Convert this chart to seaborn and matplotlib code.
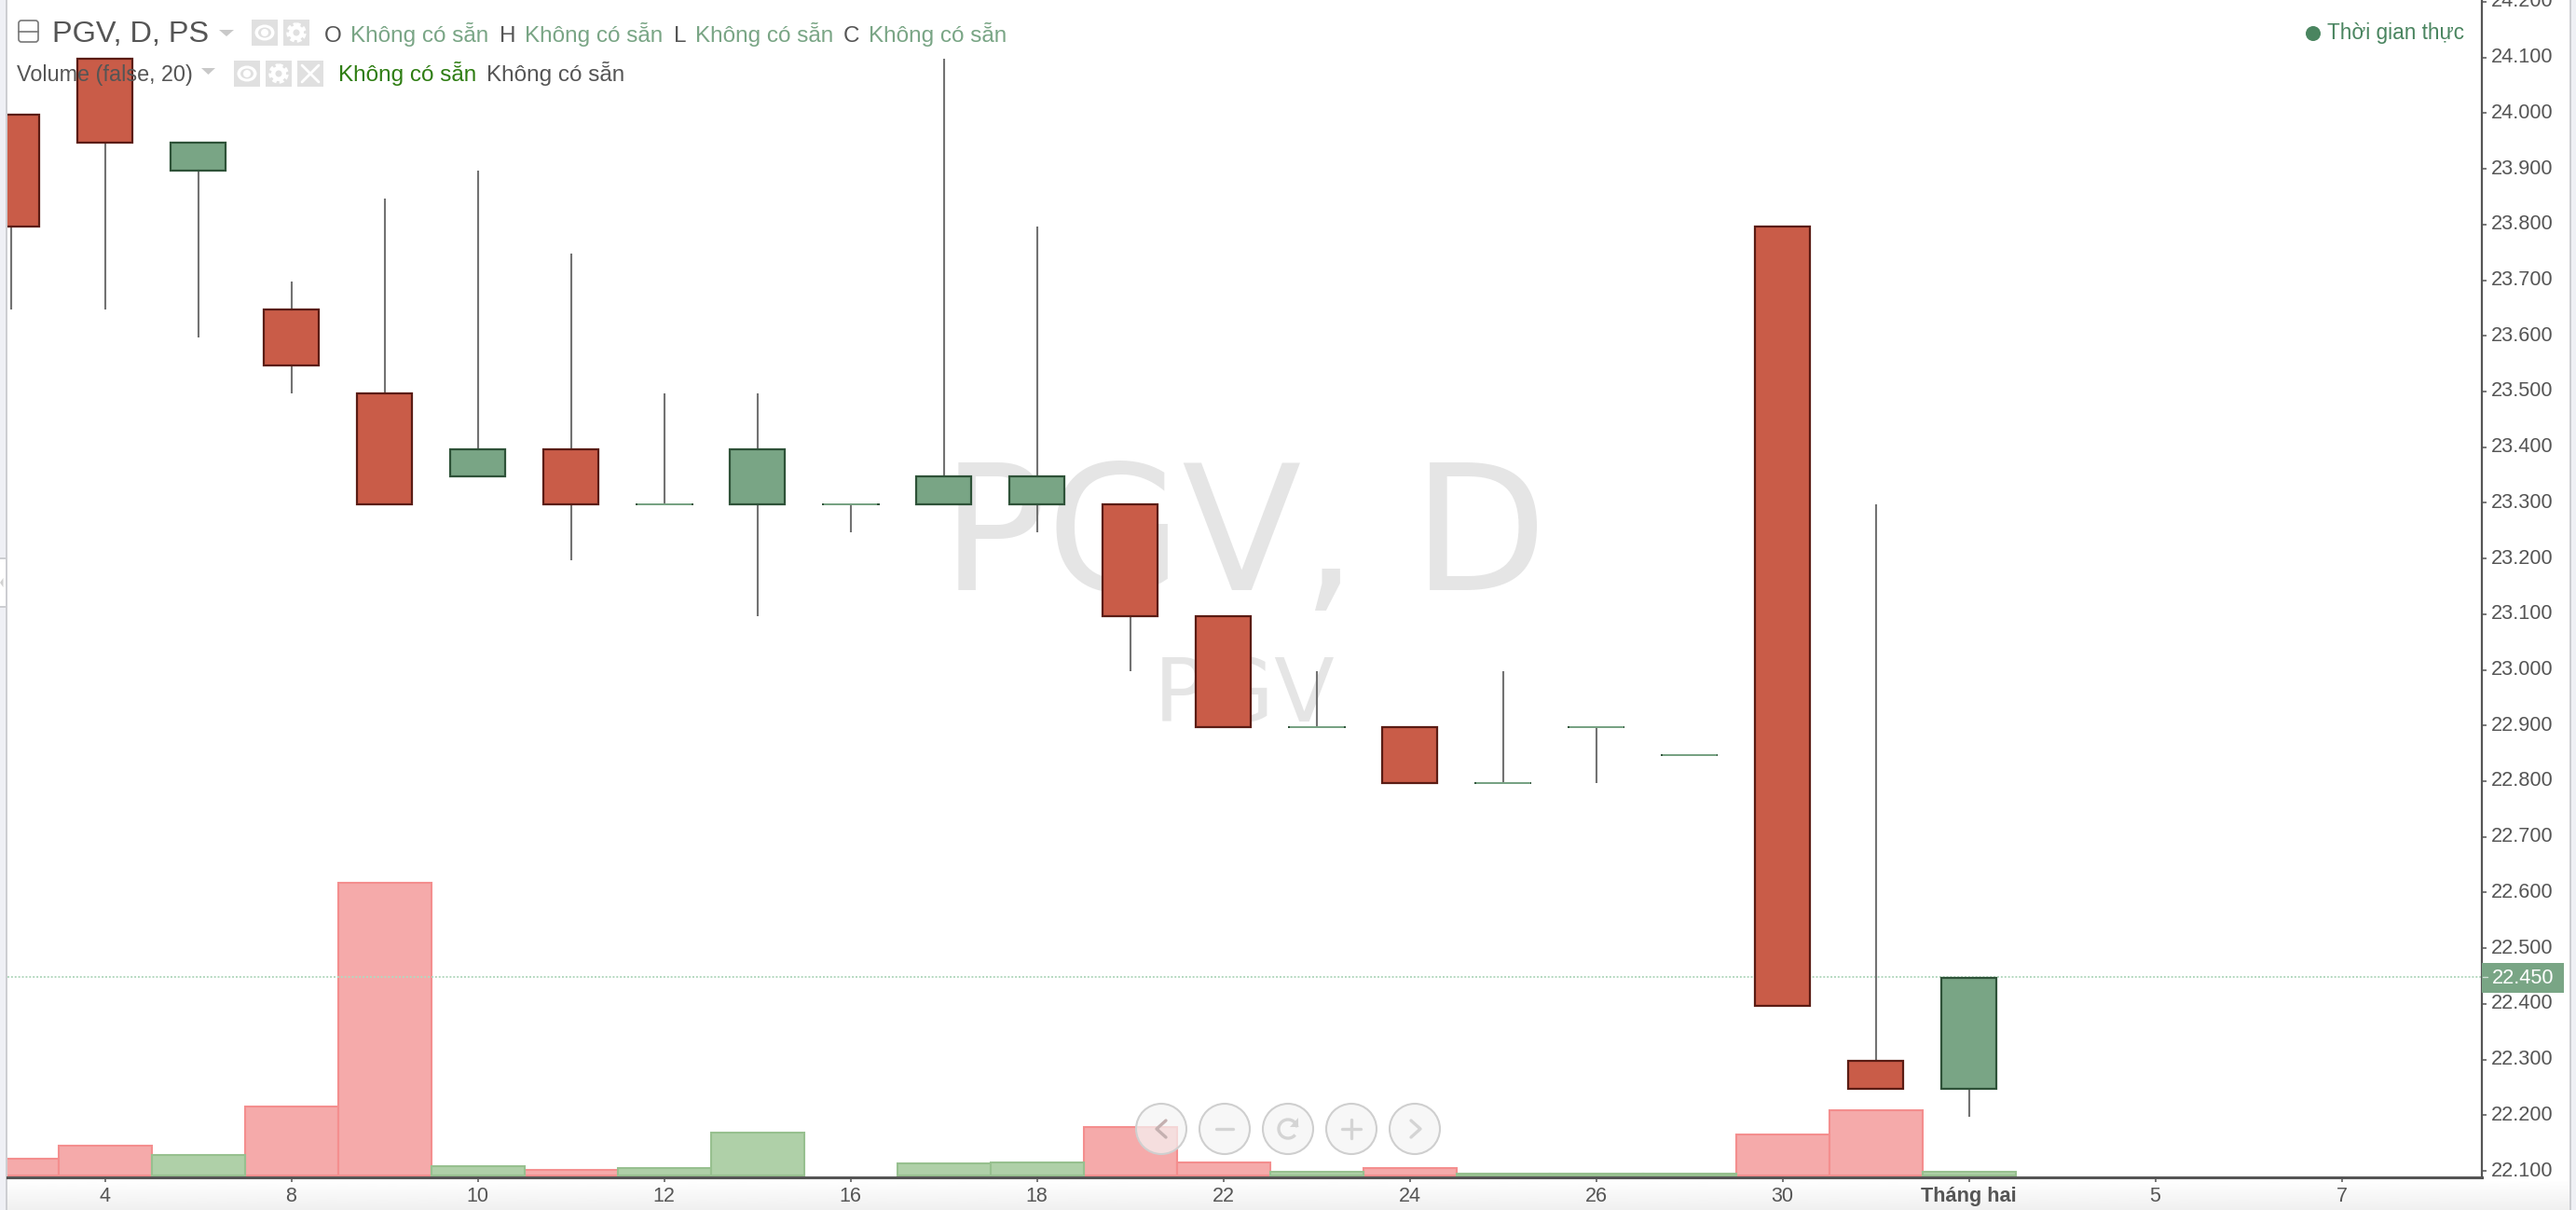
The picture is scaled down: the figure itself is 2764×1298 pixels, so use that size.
import numpy as np
import pandas as pd
import matplotlib
matplotlib.use("Agg")
import matplotlib.pyplot as plt
from matplotlib.patches import Rectangle, Circle, Ellipse, FancyBboxPatch, Polygon, Arc
from matplotlib.transforms import ScaledTranslation
import seaborn as sns

# ---------- data ----------
candle_index = list(range(22))
opens  = [24.00, 24.10, 23.90, 23.65, 23.50, 23.35, 23.40, 23.30, 23.30, 23.30, 23.30,
          23.30, 23.30, 23.10, 22.90, 22.90, 22.80, 22.90, 22.85, 23.80, 22.30, 22.25]
closes = [23.80, 23.95, 23.95, 23.55, 23.30, 23.40, 23.30, 23.30, 23.40, 23.30, 23.35,
          23.35, 23.10, 22.90, 22.90, 22.80, 22.80, 22.90, 22.85, 22.40, 22.25, 22.45]
highs  = [24.00, 24.10, 23.95, 23.70, 23.85, 23.90, 23.75, 23.50, 23.50, 23.30, 24.10,
          23.80, 23.30, 23.10, 23.00, 22.90, 23.00, 22.90, 22.85, 23.80, 23.30, 22.45]
lows   = [23.65, 23.65, 23.60, 23.50, 23.30, 23.35, 23.20, 23.30, 23.10, 23.25, 23.30,
          23.25, 23.00, 22.90, 22.90, 22.80, 22.80, 22.80, 22.85, 22.40, 22.25, 22.20]
volumes = [18, 32, 22, 74, 314, 10, 6, 8, 46, 0, 13, 14.5, 52, 14, 4, 8, 2, 2, 2, 44, 70, 4]
volume_dir = ["down", "down", "up", "down", "down", "up", "down", "up", "up", "up", "up",
              "up", "down", "down", "up", "down", "up", "up", "up", "down", "down", "up"]
x_tick_pos = [1, 3, 5, 7, 9, 11, 13, 15, 17, 19, 21, 23, 25]
x_tick_labels = ["4", "8", "10", "12", "16", "18", "22", "24", "26", "30", "Tháng hai", "5", "7"]
y_ticks = [22.1, 22.2, 22.3, 22.4, 22.5, 22.6, 22.7, 22.8, 22.9, 23.0, 23.1, 23.2, 23.3,
           23.4, 23.5, 23.6, 23.7, 23.8, 23.9, 24.0, 24.1, 24.2]
last_price = 22.45
NA_TEXT = "Không có sẵn"

# ---------- style ----------
RED, RED_E = "#C95C48", "#5A1C14"
GREEN, GREEN_E = "#79A585", "#2E5238"
V_RED, V_RED_E = "#F5AAAA", "#F48E8E"
V_GRN, V_GRN_E = "#AFD0A8", "#97C08F"
WICK = "#727272"
AXC = "#555555"
TXT = "#555555"
W, H = 2764, 1298

sns.set_theme(style="white")
plt.rcParams["font.family"] = ["Liberation Sans", "DejaVu Sans"]

fig = plt.figure(figsize=(W / 100, H / 100), dpi=100, facecolor="white")

AX_L, AX_R, AX_B = 8, 2663, 1263.3
rect = [AX_L / W, (H - AX_B) / H, (AX_R - AX_L) / W, AX_B / H]
XLIM = (-0.045, 26.505)
YLIM = (22.0878, 24.2033)


def px_axes(z):
    a = fig.add_axes([0, 0, 1, 1], zorder=z, facecolor="none")
    a.set_xlim(0, W)
    a.set_ylim(H, 0)
    a.axis("off")
    return a


# background chrome
ax_bg = px_axes(0)
grad = np.linspace(1, 0.94, 64)[:, None]
ax_bg.imshow(grad, extent=[AX_L, 2757, H, 1265], aspect="auto", cmap="gray", vmin=0, vmax=1)
ax_bg.set_xlim(0, W)
ax_bg.set_ylim(H, 0)
ax_bg.add_patch(Rectangle((0, 0), 6, H, fc="#EFF0F5", ec="none"))
ax_bg.add_patch(Rectangle((6, 0), 2, H, fc="#CDCED2", ec="none"))
ax_bg.add_patch(Rectangle((0, 598), 6, 52, fc="white", ec="none"))
ax_bg.add_patch(Rectangle((0, 598), 6, 2, fc="#CDCED2", ec="none"))
ax_bg.add_patch(Rectangle((0, 650), 6, 2, fc="#CDCED2", ec="none"))
ax_bg.add_patch(Polygon([(0, 625), (3.5, 620), (3.5, 630)], fc="#D0D0D0", ec="none"))
ax_bg.add_patch(Rectangle((2757, 0), 2.5, H, fc="#CDCED2", ec="none"))
ax_bg.add_patch(Rectangle((2759.5, 0), 5, H, fc="#EFF0F5", ec="none"))

# volume panel
ax_vol = fig.add_axes(rect, zorder=1, facecolor="none")
df = pd.DataFrame({"i": candle_index, "vol": volumes, "dir": volume_dir})
df = df[df.vol > 0]
for key, col, edge in (("down", V_RED, V_RED_E), ("up", V_GRN, V_GRN_E)):
    sns.barplot(data=df[df.dir == key], x="i", y="vol", native_scale=True, width=1,
                color=col, saturation=1, edgecolor=edge, linewidth=1.5, ax=ax_vol, zorder=3)
ax_vol.set_xlim(*XLIM)
ax_vol.set_ylim(-2.3, 1261)
ax_vol.axis("off")

# watermark (DejaVu Sans, as in the reference)
ax_vol.text(1335, 632.7, "PGV, D", transform=ax_bg.transData, fontsize=135, color="#E5E5E5",
            ha="center", va="baseline", zorder=0, family="DejaVu Sans")
ax_vol.text(1335, 774, "PGV", transform=ax_bg.transData, fontsize=68, color="#E5E5E5",
            ha="center", va="baseline", zorder=0, family="DejaVu Sans")

# price panel
ax = fig.add_axes(rect, zorder=2, facecolor="none")
ax.set_xlim(*XLIM)
ax.set_ylim(*YLIM)
# the chart library draws its candles slightly below the tick grid
shift = ax.transData + ScaledTranslation(0, -1.8 / 100, fig.dpi_scale_trans)
line_shift = ax.transData + ScaledTranslation(0, -1 / 100, fig.dpi_scale_trans)
ax.hlines(last_price, XLIM[0], XLIM[1], color="#B4D8C0", lw=1.4, ls=(0, (1, 1)), zorder=1,
          transform=line_shift)
ax.vlines(candle_index, lows, highs, color=WICK, lw=1.5, zorder=2, transform=shift)
for i, o, c in zip(candle_index, opens, closes):
    col, edge = (GREEN, GREEN_E) if c >= o else (RED, RED_E)
    if o == c:
        ax.hlines(o, i - 0.31, i + 0.31, color=GREEN_E, lw=1.4, zorder=3, transform=shift)
        ax.hlines(o, i - 0.29, i + 0.29, color=GREEN, lw=1.4, zorder=4, transform=shift)
    else:
        ax.bar(i, abs(c - o), bottom=min(o, c), width=0.59, color=col, edgecolor=edge,
               linewidth=1.6, zorder=3, transform=shift)
ax.set_xlim(*XLIM)
ax.set_ylim(*YLIM)
ax.yaxis.tick_right()
ax.set_yticks(y_ticks, [f"{v:.3f}" for v in y_ticks])
ax.set_xticks(x_tick_pos, x_tick_labels)
ax.tick_params(axis="y", length=3.8, width=1.1, color=AXC, labelcolor=TXT, labelsize=15.7, pad=3.5, right=True)
ax.tick_params(axis="x", length=3.8, width=1.1, color=AXC, labelcolor=TXT, labelsize=15.5, pad=3.5, bottom=True)
up = ScaledTranslation(0, 2.5 / 100, fig.dpi_scale_trans)
for lab in ax.get_yticklabels():
    lab.set_transform(lab.get_transform() + up)
for lab in ax.get_xticklabels():
    if lab.get_text() == "Tháng hai":
        lab.set_fontweight("bold")
        lab.set_fontsize(15.7)
for s in ("top", "left"):
    ax.spines[s].set_visible(False)
ax.spines["right"].set_color(AXC)
ax.spines["right"].set_linewidth(1.6)
ax.spines["bottom"].set_color(AXC)
ax.spines["bottom"].set_linewidth(2.2)
ax.grid(False)

# overlay: legend header, price tag, nav buttons
ov = px_axes(3)
ov.add_patch(Rectangle((2663, 1033), 88, 32, fc=GREEN, ec="none"))
ov.text(2674, 1047, f"{last_price:.3f}", color="white", fontsize=15.7, va="center_baseline", ha="left")
ov.plot([2664, 2669], [1048, 1048], color="#CFE0D4", lw=1)

ov.add_patch(FancyBboxPatch((20, 22), 21, 23, boxstyle="round,pad=0,rounding_size=3",
                            fc="white", ec="#777777", lw=1.2))
ov.plot([20, 41], [33.5, 33.5], color="#777777", lw=1.2)
ov.text(56, 45, "PGV, D, PS", fontsize=23.4, color=TXT, va="baseline")
ov.add_patch(Polygon([(235, 32), (251, 32), (243, 39)], fc="#C9C9C9", ec="none"))

ICON = "#E0E0E0"


def icon_box(x, y):
    ov.add_patch(Rectangle((x, y), 28, 28, fc=ICON, ec="none"))
    return x + 14, y + 14


def eye(x, y):
    cx, cy = icon_box(x, y)
    ov.add_patch(Ellipse((cx, cy), 21, 17, fc="white", ec="none"))
    ov.add_patch(Ellipse((cx, cy), 14, 11, fc=ICON, ec="none"))
    ov.add_patch(Circle((cx, cy), 4, fc="white", ec="none"))


def gear(x, y):
    cx, cy = icon_box(x, y)
    ov.add_patch(Circle((cx, cy), 8.5, fc="none", ec="white", lw=3.2, ls=(0, (1.0, 0.62))))
    ov.add_patch(Circle((cx, cy), 8, fc="white", ec="none"))
    ov.add_patch(Circle((cx, cy), 3.5, fc=ICON, ec="none"))


def cross(x, y):
    cx, cy = icon_box(x, y)
    ov.plot([cx - 9, cx + 9], [cy - 9, cy + 9], color="white", lw=2)
    ov.plot([cx - 9, cx + 9], [cy + 9, cy - 9], color="white", lw=2)


eye(270, 21)
gear(304, 21)
for x, t in ((348, "O"), (536, "H"), (723, "L"), (905, "C")):
    ov.text(x, 45, t, fontsize=17.5, color=TXT, va="baseline")
for x in (376, 563, 746, 932):
    ov.text(x, 45, NA_TEXT, fontsize=17.5, color=GREEN, va="baseline")

ov.text(18, 87, "Volume (false, 20)", fontsize=16.8, color=TXT, va="baseline")
ov.add_patch(Polygon([(216, 73), (231, 73), (223.5, 80)], fc="#C9C9C9", ec="none"))
eye(251, 65)
gear(285, 65)
cross(319, 65)
ov.text(363, 87, NA_TEXT, fontsize=17.5, color="#2E7D12", va="baseline")
ov.text(522, 87, NA_TEXT, fontsize=17.5, color=TXT, va="baseline")

ov.add_patch(Circle((2482, 36), 8, fc="#4A8560", ec="none"))
ov.text(2497, 42, "Thời gian thực", fontsize=16.3, color="#4A8560", va="baseline")

# navigation buttons
NAV = "#D4D4D4"
NY = 1211
for cx in (1246, 1314, 1382, 1450, 1518):
    ov.add_patch(Circle((cx, NY), 27, fc=(0.96, 0.96, 0.96, 0.7), ec="#CFCFCF", lw=1.5))
lw = 2.4
ov.plot([1251, 1241, 1251], [NY - 9, NY, NY + 9], color="#C4B0B0", lw=lw)
ov.plot([1305, 1323], [NY, NY], color=NAV, lw=lw)
ov.add_patch(Arc((1382, NY), 20, 20, theta1=-320, theta2=-10, color=NAV, lw=lw))
ov.add_patch(Polygon([(1393, NY - 12), (1393, NY - 2), (1384, NY - 2)], fc=NAV, ec="none"))
ov.plot([1440, 1460], [NY, NY], color=NAV, lw=lw)
ov.plot([1450, 1450], [NY - 10, NY + 10], color=NAV, lw=lw)
ov.plot([1514, 1524, 1514], [NY - 9, NY, NY + 9], color=NAV, lw=lw)

fig.savefig("out.png", dpi=100, facecolor="white")
